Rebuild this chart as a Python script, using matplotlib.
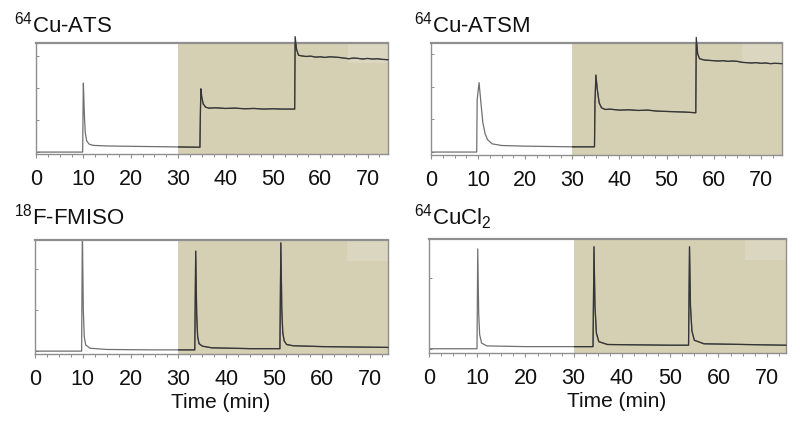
import matplotlib
matplotlib.use("Agg")
import matplotlib.pyplot as plt
from matplotlib.ticker import MultipleLocator
import numpy as np

plt.rcParams['font.family'] = ['Liberation Sans', 'DejaVu Sans']
plt.rcParams['mathtext.fontset'] = 'custom'
plt.rcParams['mathtext.rm'] = 'Liberation Sans'
plt.rcParams['mathtext.it'] = 'Liberation Sans:italic'

titles = [r'$\mathregular{^{64}}$Cu-ATS', r'$\mathregular{^{64}}$Cu-ATSM',
          r'$\mathregular{^{18}}$F-FMISO', r'$\mathregular{^{64}}$CuCl$\mathregular{_2}$']
xlabel = 'Time (min)'
xticks = [0, 10, 20, 30, 40, 50, 60, 70]
shade_start = 30

# 64Cu-ATS trace
ats_t = [0, 9.85, 9.95, 10.0, 10.2, 10.4, 10.7, 11.2, 12, 15, 20, 25, 30, 34.6,
         34.7, 34.8, 35.0, 35.3, 35.8, 36.5, 38, 40, 42, 44, 46, 48, 50, 52, 54.6,
         54.7, 55.0, 55.4, 56, 57, 58, 59, 60, 61, 62, 63, 64, 65, 66, 67, 68, 69,
         70, 71, 72, 73, 74.3]
ats_v = [0.0, 0.0, 1.6, 2.15, 1.2, 0.6, 0.35, 0.25, 0.21, 0.19, 0.18, 0.17, 0.16, 0.15,
         1.2, 1.97, 1.7, 1.5, 1.4, 1.37, 1.38, 1.36, 1.37, 1.35, 1.36, 1.34, 1.35, 1.34, 1.34,
         3.6, 3.2, 3.02, 3.0, 2.98, 2.99, 2.96, 2.97, 2.95, 2.97, 2.96, 2.95, 2.93, 2.91,
         2.93, 2.92, 2.9, 2.92, 2.9, 2.91, 2.89, 2.88]

# 64Cu-ATSM trace
atsm_t = [0, 9.7, 9.8, 10.2, 10.6, 11.0, 11.5, 12, 13, 15, 20, 25, 30, 34.7,
          34.8, 35.0, 35.3, 35.7, 36.2, 37, 38, 40, 42, 44, 46, 48, 50, 52, 54, 56.2,
          56.3, 56.6, 57, 58, 59, 60, 61, 62, 63, 64, 65, 66, 67, 68, 69, 70, 71, 72,
          73, 74.5]
atsm_v = [0.0, 0.0, 1.6, 2.12, 1.5, 0.9, 0.55, 0.38, 0.25, 0.2, 0.18, 0.17, 0.16, 0.16,
          1.5, 2.35, 1.9, 1.5, 1.35, 1.3, 1.31, 1.28, 1.29, 1.27, 1.28, 1.25, 1.24, 1.23,
          1.22, 1.2,
          3.5, 3.0, 2.85, 2.81, 2.8, 2.79, 2.78, 2.79, 2.77, 2.78, 2.77, 2.74, 2.73, 2.72,
          2.73, 2.71, 2.72, 2.7, 2.71, 2.7]

# 18F-FMISO trace
fmiso_t = [0, 9.75, 9.9, 10.1, 10.3, 10.6, 11.5, 15, 25, 33.4, 33.6, 33.8, 34.0, 34.3,
           35, 37, 45, 51.2, 51.4, 51.6, 51.8, 52.1, 52.6, 54, 60, 73.8]
fmiso_v = [0.0, 0.0, 3.0, 1.0, 0.35, 0.15, 0.07, 0.04, 0.03, 0.03, 2.43, 0.9, 0.35, 0.18,
           0.12, 0.08, 0.06, 0.06, 2.63, 1.0, 0.45, 0.25, 0.16, 0.13, 0.11, 0.09]

# 64CuCl2 trace
cucl_t = [0, 9.95, 10.1, 10.3, 10.5, 10.9, 12, 20, 34.0, 34.2, 34.4, 34.7, 35.2, 37,
          50, 53.8, 54.0, 54.2, 54.5, 55, 57, 74]
cucl_v = [0.0, 0.0, 1.41, 0.5, 0.2, 0.08, 0.04, 0.03, 0.03, 1.44, 0.6, 0.22, 0.1, 0.06,
          0.05, 0.05, 1.44, 0.6, 0.25, 0.12, 0.07, 0.05]

traces = [(ats_t, ats_v), (atsm_t, atsm_v), (fmiso_t, fmiso_v), (cucl_t, cucl_v)]
xlims = [(0, 74.3), (0, 74.5), (0, 73.8), (0, 74.0)]
ylims = [(-0.06, 3.4), (-0.09, 3.33), (-0.07, 2.7), (-0.06, 1.55)]
yticks = [[0, 1, 2, 3], [0, 1, 2, 3], [0, 1, 2], [0, 1]]

W, H = 800, 425
boxes = [(36, 43, 388, 154), (431, 43, 782, 155), (35, 240, 388, 354), (429, 239, 786, 353)]
title_pos = [(14, 32), (414, 32), (14, 225), (414, 225)]

shade_col = '#d5cfb3'
light_col = '#dbd6bf'
line_light = '#707070'
line_dark = '#353535'
spine_col = '#8f8f8f'

fig = plt.figure(figsize=(W / 100, H / 100), dpi=100)
for i in range(4):
    x0, y0, x1, y1 = boxes[i]
    ax = fig.add_axes([x0 / W, 1 - y1 / H, (x1 - x0) / W, (y1 - y0) / H])
    span = ax.axvspan(shade_start, xlims[i][1], color=shade_col, lw=0, zorder=0)
    ax.add_patch(plt.Rectangle((0.885, 0.82), 0.115, 0.18, transform=ax.transAxes,
                               color=light_col, lw=0, zorder=0.5))
    t, v = traces[i]
    ax.plot(t, v, color=line_light, lw=0.9, zorder=2)
    dark, = ax.plot(t, v, color=line_dark, lw=0.9, zorder=3)
    clip = plt.Rectangle((shade_start, -10), 100, 20, transform=ax.transData,
                         fill=False, lw=0, visible=False)
    ax.add_patch(clip)
    dark.set_clip_path(clip)
    ax.set_xlim(*xlims[i])
    ax.set_ylim(*ylims[i])
    ax.set_xticks(xticks)
    ax.xaxis.set_minor_locator(MultipleLocator(2.5))
    ax.set_yticks(yticks[i])
    ax.set_yticklabels([])
    ax.tick_params(axis='x', which='major', direction='out', length=3, width=0.8,
                   color=spine_col, labelsize=15.5, pad=8, labelcolor='#111111')
    ax.tick_params(axis='x', which='minor', direction='out', length=2, width=0.7,
                   color=spine_col)
    ax.tick_params(axis='y', direction='in', length=2, width=0.7, color=spine_col)
    for s in ax.spines.values():
        s.set_color(spine_col)
        s.set_linewidth(1.0)
    ax.spines['top'].set_linewidth(1.6)
    if i >= 2:
        ax.set_xlabel(xlabel, fontsize=15, color='#111111', labelpad=2)
        ax.xaxis.set_label_coords(0.525, -0.34)
    tx, ty = title_pos[i]
    fig.text(tx / W, 1 - ty / H, titles[i], fontsize=16, color='#111111',
             ha='left', va='baseline')

fig.savefig('out.png', dpi=100, facecolor='white')
